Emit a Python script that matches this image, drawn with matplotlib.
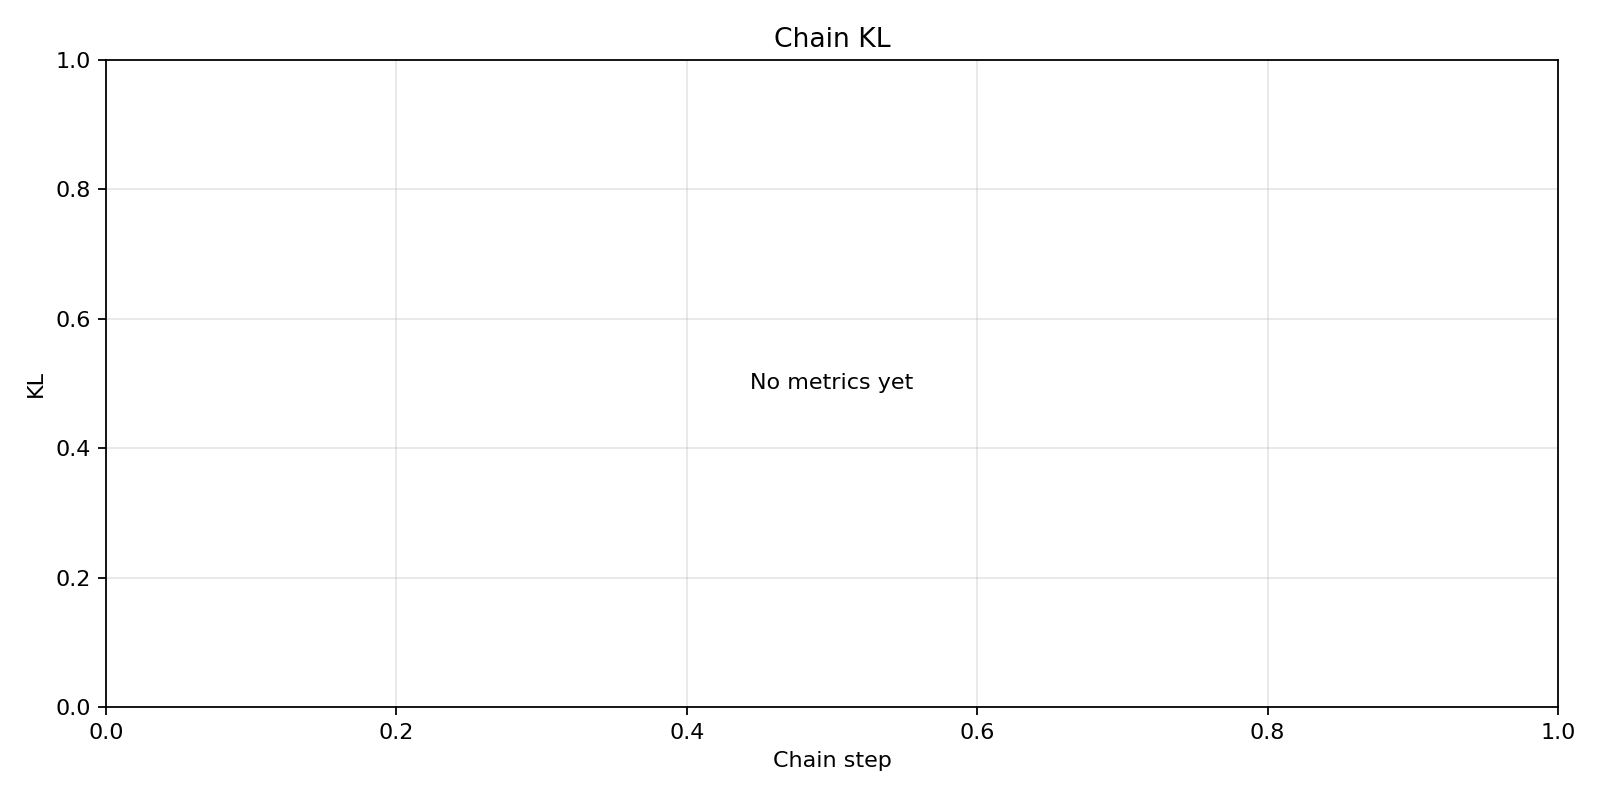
import matplotlib
matplotlib.use('Agg')
import matplotlib.pyplot as plt

# no metrics logged yet -> empty series
steps = []
kl_values = []

fig, ax = plt.subplots(figsize=(10, 5), dpi=160)
if len(steps) > 0:
    ax.plot(steps, kl_values)
else:
    ax.text(0.5, 0.5, 'No metrics yet', ha='center', va='center', transform=ax.transAxes)
ax.set_xlim(0, 1)
ax.set_ylim(0, 1)
ax.set_title('Chain KL')
ax.set_xlabel('Chain step')
ax.set_ylabel('KL')
ax.grid(True, alpha=0.3)
fig.subplots_adjust(left=0.0663, right=0.9738, top=0.925, bottom=0.1163)
fig.savefig('out.png')
